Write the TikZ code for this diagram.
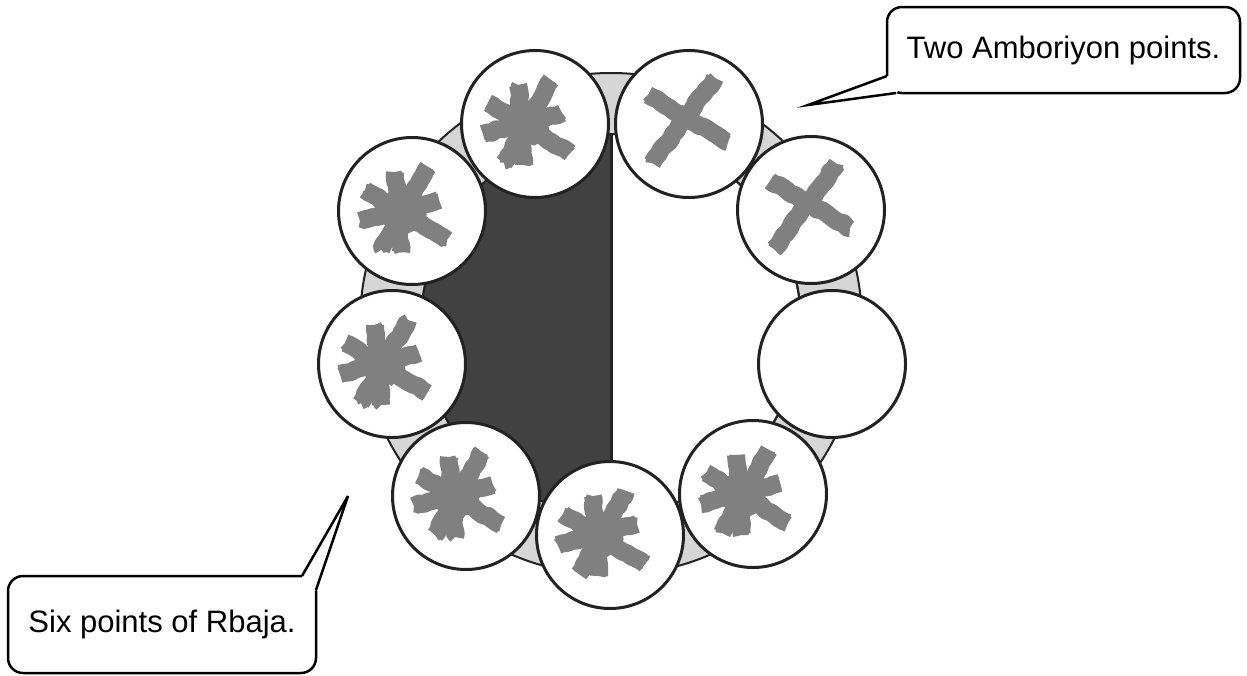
\documentclass[tikz,border=0pt]{standalone}
\usepackage{fontspec}
\setmainfont{Liberation Sans}
\usetikzlibrary{calc,decorations.pathmorphing}
\definecolor{ringgray}{HTML}{D6D6D6}
\definecolor{darkfill}{HTML}{414141}
\definecolor{outl}{HTML}{222222}
\definecolor{mkgray}{HTML}{808080}
\tikzset{
  pt/.style={circle,draw=outl,line width=3pt,fill=white,minimum size=147pt,inner sep=0pt},
  mk/.style={draw=mkgray,line width=18pt,line join=round,decorate,decoration={random steps,segment length=5pt,amplitude=1.2pt}},
  mkb/.style={draw=mkgray,line width=13pt,line join=round,decorate,decoration={random steps,segment length=4pt,amplitude=2.4pt}},
  callout/.style={draw=black,line width=2.5pt,fill=white,rounded corners=15pt},
  tail/.style={draw=black,line width=2.5pt,line join=miter},
  ctext/.style={font=\fontsize{31}{37}\selectfont,inner sep=0pt}
}
\newcommand\astmark[1]{%
  \begin{scope}[shift={($(#1)+(-9,-2)$)}]
    \fill[mkgray,decorate,decoration={random steps,segment length=5pt,amplitude=2pt}] (0,2) circle (22);
    \foreach \a/\b in {{-38,-19}/{44,31},{25,-42}/{-22,41},{-8,-37}/{-2,43},{-43,12}/{36,-9}}{
      \path[mk] (\a) -- (\b);
      \path[mkb] (\a) -- (\b);
    }
  \end{scope}}
\newcommand\crossmark[1]{%
  \begin{scope}[shift={(#1)}]
    \foreach \a/\b in {{-41,-29}/{39,18},{26,-46}/{-37,39}}{
      \path[mk] (\a) -- (\b);
      \path[mkb] (\a) -- (\b);
    }
  \end{scope}}
\begin{document}
\begin{tikzpicture}[x=1pt,y=-1pt]
\useasboundingbox (0,0) rectangle (1247,675);
% ring
\coordinate (o) at (611,324);
\draw[outl,line width=2pt,fill=ringgray] (o) circle (251);
\draw[outl,line width=2pt,fill=white] (o) circle (190);
\begin{scope}
  \clip ($(o)+(-200,-200)$) rectangle ($(o)+(0,200)$);
  \fill[darkfill] (o) circle (190);
\end{scope}
\draw[outl,line width=2pt] (o) circle (190);
\draw[outl,line width=3pt] ($(o)+(0,-190)$) -- ($(o)+(0,190)$);
% point circles
\node[pt] (c9) at (412,211) {};
\node[pt] (c8) at (392,364) {};
\node[pt] (c7) at (466,496) {};
\node[pt] (c1) at (535,124) {};
\node[pt] (c2) at (689,124) {};
\node[pt] (c3) at (811,210) {};
\node[pt] (c4) at (832,364) {};
\node[pt] (c5) at (753,494) {};
\node[pt] (c6) at (610,535) {};
% markers
\astmark{c1}
\astmark{c9}
\astmark{c8}
\astmark{c7}
\astmark{c6}
\astmark{c5}
\crossmark{c2}
\crossmark{c3}
% callout 1
\node[callout,minimum width=353pt,minimum height=86pt] (b1) at (1063.5,50) {};
\node[ctext] (t1) at (b1.center) {Two Amboriyon points.};
\coordinate (tip1) at (808,105);
\coordinate (a1) at (887,76);
\coordinate (a2) at (896,93);
\fill[white] (a1) -- (tip1) -- (a2) -- ($(a2)+(8,-8)$) -- ($(a1)+(4,0)$) -- cycle;
\draw[tail] (a1) -- (tip1) -- (a2);
% callout 2
\node[callout,minimum width=308pt,minimum height=97pt] (b2) at (162,624.5) {};
\node[ctext] (t2) at (b2.center) {Six points of Rbaja.};
\coordinate (tip2) at (348,496);
\coordinate (d1) at (302,576);
\coordinate (d2) at (316,590);
\fill[white] (d1) -- (tip2) -- (d2) -- ($(d2)+(-6,4)$) -- ($(d1)+(0,6)$) -- cycle;
\draw[tail] (d1) -- (tip2) -- (d2);
\end{tikzpicture}
\end{document}
